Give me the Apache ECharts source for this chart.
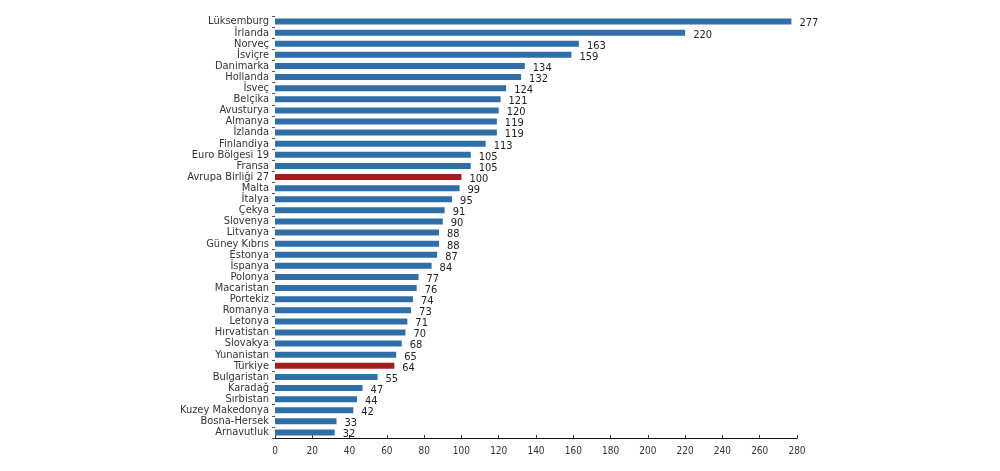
<!DOCTYPE html>
<html>
<head>
<meta charset="utf-8">
<script src="https://cdn.jsdelivr.net/npm/echarts@6/dist/echarts.min.js"></script>
<style>
  html, body { margin: 0; padding: 0; background: #fff; }
  #container { width: 1000px; height: 471px; }
</style>
</head>
<body>
<div id="container"></div>
<script>
// countries, top to bottom as in the picture
const countries = [
    'Lüksemburg', 'İrlanda', 'Norveç', 'İsviçre', 'Danimarka', 'Hollanda', 'İsveç',
    'Belçika', 'Avusturya', 'Almanya', 'İzlanda', 'Finlandiya', 'Euro Bölgesi 19',
    'Fransa', 'Avrupa Birliği 27', 'Malta', 'İtalya', 'Çekya', 'Slovenya', 'Litvanya',
    'Güney Kıbrıs', 'Estonya', 'İspanya', 'Polonya', 'Macaristan', 'Portekiz',
    'Romanya', 'Letonya', 'Hırvatistan', 'Slovakya', 'Yunanistan', 'Türkiye',
    'Bulgaristan', 'Karadağ', 'Sırbistan', 'Kuzey Makedonya', 'Bosna-Hersek', 'Arnavutluk'
];
const values = [
    277, 220, 163, 159, 134, 132, 124,
    121, 120, 119, 119, 113, 105,
    105, 100, 99, 95, 91, 90, 88,
    88, 87, 84, 77, 76, 74,
    73, 71, 70, 68, 65, 64,
    55, 47, 44, 42, 33, 32
];
const highlighted = ['Avrupa Birliği 27', 'Türkiye'];
const xTicks = [0, 20, 40, 60, 80, 100, 120, 140, 160, 180, 200, 220, 240, 260, 280];

var dom = document.getElementById('container');
var myChart = echarts.init(dom, null, { renderer: 'canvas' });

// category axis runs bottom-up, so reverse to keep Lüksemburg on top
var cats = countries.slice().reverse();
var vals = values.slice().reverse();

var option = {
    animation: false,
    grid: { left: 275, right: 203, top: 16, bottom: 33 },
    xAxis: {
        type: 'value',
        min: xTicks[0],
        max: xTicks[xTicks.length - 1],
        interval: 20,
        splitLine: { show: false },
        axisLine: { show: true, lineStyle: { color: '#111', width: 1 } },
        axisTick: { show: true, inside: true, length: 3, lineStyle: { color: '#333' } },
        axisLabel: { color: '#333', fontSize: 10, fontFamily: 'DejaVu Sans Condensed', margin: 8 }
    },
    yAxis: {
        type: 'category',
        data: cats,
        axisLine: { show: false },
        axisTick: { show: true, length: 3, lineStyle: { color: '#555' } },
        axisLabel: {
            color: '#333', fontSize: 11, fontFamily: 'DejaVu Sans Condensed', margin: 6,
            interval: 0
        }
    },
    series: [
        {
            type: 'bar',
            barWidth: 6,
            data: vals.map((v, i) => ({
                value: v,
                itemStyle: { color: highlighted.includes(cats[i]) ? '#a11d1d' : '#2f6ea6' }
            })),
            label: {
                show: true,
                position: 'right',
                distance: 8,
                offset: [0, 2],
                color: '#222',
                fontSize: 11,
                fontFamily: 'DejaVu Sans Condensed'
            }
        }
    ]
};

myChart.setOption(option);
window.addEventListener('resize', myChart.resize);
</script>
</body>
</html>
